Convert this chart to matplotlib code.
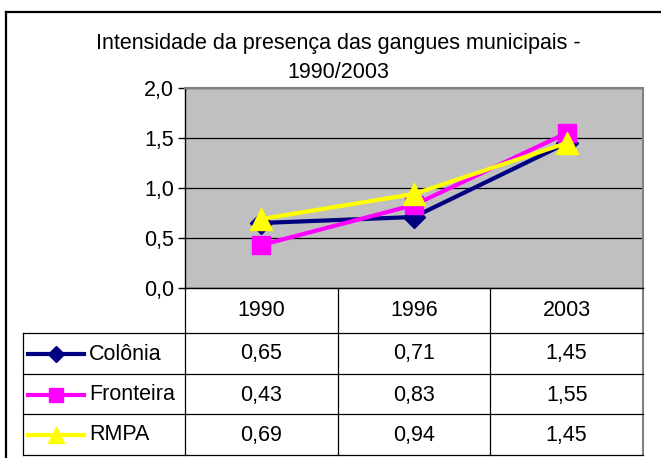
import matplotlib
matplotlib.use("Agg")
import matplotlib.pyplot as plt
from matplotlib.lines import Line2D
from matplotlib.transforms import blended_transform_factory, Affine2D

years = ["1990", "1996", "2003"]
series_names = ["Colônia", "Fronteira", "RMPA"]
colonia = [0.65, 0.71, 1.45]
fronteira = [0.43, 0.83, 1.55]
rmpa = [0.69, 0.94, 1.45]
yticks = [0.0, 0.5, 1.0, 1.5, 2.0]
title1 = "Intensidade da presença das gangues municipais -"
title2 = "1990/2003"

plt.rcParams['font.family'] = ['Liberation Sans', 'DejaVu Sans']
FS = 15.5

W, H = 661, 458
fig = plt.figure(figsize=(W / 100, H / 100), dpi=100)
px = Affine2D().scale(1 / W, -1 / H).translate(0, 1) + fig.transFigure

# outer chart frame (partially visible)
fig.add_artist(Line2D([6, 6], [12, 460], transform=px, color='black', lw=1.6))
fig.add_artist(Line2D([6, 662], [12, 12], transform=px, color='black', lw=1.6))

# title
fig.text(338, 44, title1, transform=px, ha='center', va='center', fontsize=FS)
fig.text(338, 72, title2, transform=px, ha='center', va='center', fontsize=FS)

L, R, T, B = 185, 643, 88, 288
ax = fig.add_axes([L / W, 1 - B / H, (R - L) / W, (B - T) / H])
ax.set_facecolor('#C0C0C0')
ax.set_xlim(-0.5, 2.5)
ax.set_ylim(0, 2)
ax.set_yticks(yticks)
ax.set_yticklabels([f"{v:.1f}".replace('.', ',') for v in yticks], fontsize=FS)
ax.set_xticks([])
ax.tick_params(axis='y', length=5, width=1, pad=3, color='black')
ax.yaxis.grid(True, color='black', lw=0.9)
ax.set_axisbelow(True)
for s in ['top', 'right']:
    ax.spines[s].set_color('#808080')
    ax.spines[s].set_linewidth(1.5)
ax.spines['left'].set_color('black')
ax.spines['left'].set_linewidth(1)
ax.spines['bottom'].set_color('black')
ax.spines['bottom'].set_linewidth(1)

styles = [
    dict(color='#000080', marker='D', ms=11),
    dict(color='#FF00FF', marker='s', ms=13.5),
    dict(color='#FFFF00', marker='^', ms=15.5),
]
data = [colonia, fronteira, rmpa]
x = list(range(len(years)))
for vals, st in zip(data, styles):
    ax.plot(x, vals, color=st['color'], lw=3, marker=st['marker'], ms=st['ms'],
            mec=st['color'], mfc=st['color'], clip_on=False, zorder=3)

# data table
trans = blended_transform_factory(ax.transData, px)
row_lines = [333, 374, 414, 455]
header_y = 310
row_centers = [354, 395, 435]
# vertical separators
for xb in [-0.5, 0.5, 1.5]:
    ax.add_artist(Line2D([xb, xb], [B, row_lines[-1]], transform=trans,
                         color='black', lw=0.9, clip_on=False))
ax.add_artist(Line2D([2.5, 2.5], [B, row_lines[-1]], transform=trans,
                     color='#808080', lw=1.5, clip_on=False))
# horizontal lines
for yl in row_lines:
    fig.add_artist(Line2D([23, R], [yl, yl], transform=px, color='black', lw=0.9))
fig.add_artist(Line2D([23, 23], [row_lines[0], row_lines[-1]], transform=px,
                      color='black', lw=0.9))

for i, yr in enumerate(years):
    ax.text(i, header_y, yr, transform=trans, ha='center', va='center', fontsize=FS)
for r, (name, vals, st) in enumerate(zip(series_names, data, styles)):
    yc = row_centers[r]
    for i, v in enumerate(vals):
        ax.text(i, yc, f"{v:.2f}".replace('.', ','), transform=trans,
                ha='center', va='center', fontsize=FS)
    fig.add_artist(Line2D([28, 84], [yc, yc], transform=px, color=st['color'], lw=3))
    fig.add_artist(Line2D([56], [yc], transform=px, color=st['color'], marker=st['marker'],
                          ms=st['ms'] * 0.75, mec=st['color'], mfc=st['color']))
    fig.text(89, yc, name, transform=px, ha='left', va='center', fontsize=FS)

fig.savefig("out.png", dpi=100)
